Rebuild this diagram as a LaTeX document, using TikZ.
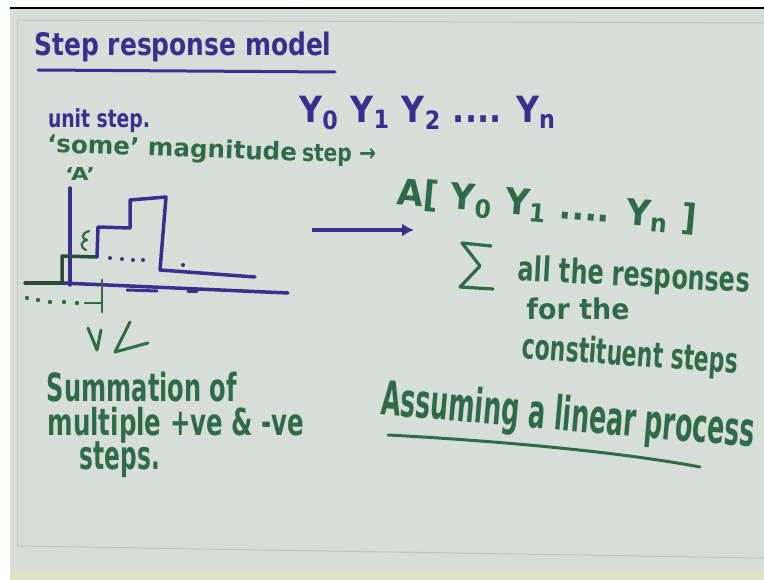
\documentclass[tikz,border=0pt]{standalone}
\usepackage{fontspec}
\setmainfont{DejaVu Sans}
\usepackage{graphicx}
\usetikzlibrary{arrows.meta}
\definecolor{board}{HTML}{D7DED8}
\definecolor{frameline}{HTML}{BEC6C0}
\definecolor{inkb}{HTML}{3A2F8E}
\definecolor{inkg}{HTML}{2F6B48}
\definecolor{inkd}{HTML}{2C4A3A}
\newcommand{\hwbox}[3]{\resizebox*{#1pt}{#2pt}{#3}}
\tikzset{
  txt/.style={inner sep=0pt, outer sep=0pt, anchor=center, font=\bfseries},
  plotb/.style={draw=inkb, line width=3.5pt, line cap=round, line join=round},
  plotg/.style={draw=inkd, line width=3.5pt, line cap=round, line join=round},
  penb/.style={draw=inkb, line width=2.5pt, line cap=round, line join=round},
  peng/.style={draw=inkg, line width=2.5pt, line cap=round, line join=round}
}
\begin{document}
\begin{tikzpicture}[x=1pt,y=-1pt]
\useasboundingbox (0,0) rectangle (764,580);
% board and frame
\fill[white] (0,0) rectangle (764,580);
\fill[board] (10,9) rectangle (764,575);
\fill[black] (10,7) rectangle (764,9.5);
\fill[yellow!12!board] (10,570) rectangle (764,580);
\draw[frameline, line width=1pt] (17,20) -- (764,23);
\draw[frameline, line width=1pt] (17,20) -- (17,546);
\draw[frameline, line width=1pt] (17,546) -- (764,558);

% title
\node[txt, text=inkb] (title) at (183,47) {\hwbox{297}{30}{Step response model}};
\draw[penb, line width=3pt] (38,70) -- (335,72);

% unit step line
\node[txt, text=inkb] (unit) at (99,121) {\hwbox{102}{24}{unit step.}};
\node[txt, text=inkb] (yseq) at (428,113) {\hwbox{257}{33}{Y\textsubscript{0} Y\textsubscript{1} Y\textsubscript{2} .... Y\textsubscript{n}}};

% some magnitude step
\node[txt, text=inkg, rotate=-2] (some) at (172,150) {\hwbox{250}{24}{‘some’ magnitude}};
\node[txt, text=inkg] (stepar) at (339,156) {\hwbox{74}{22}{step →}};
\node[txt, text=inkg] (Aq) at (80,174) {\hwbox{30}{13}{‘A’}};
\node[txt, text=inkg, rotate=-5] (Avec) at (547,207) {\hwbox{300}{34}{A[ Y\textsubscript{0} Y\textsubscript{1} .... Y\textsubscript{n} ]}};

% step plot
\draw[plotb] (70,188) -- (70,285);
\draw[plotg] (25,283) -- (62,283);
\draw[plotb] (62,283) -- (288,293);
\draw[plotg] (62,283) -- (62,256) -- (97,257);
\draw[plotb] (97,257) -- (98,227) -- (130,228) -- (130,200) -- (166,197) -- (160,270) -- (255,277);
\foreach \px/\py in {110/258,122/259,133/260,143/260,183/265}
  \fill[inkb] (\px,\py) circle (2pt);
\draw[plotb, line width=3pt] (127,290) -- (157,291);
\draw[plotb, line width=3pt] (188,292) -- (197,292);
\foreach \px/\py in {27/298,38/300,50/302,64/302,77/303}
  \fill[inkg] (\px,\py) circle (2.2pt);
\draw[peng] (85,303) -- (102,303);
\draw[peng] (102,280) -- (102,312);
\draw[peng, line width=2.2pt] (89,231) .. controls (80,234) and (82,239) .. (87,240) .. controls (80,242) and (80,247) .. (86,250);

% check marks under plot
\draw[peng, line width=3pt] (88,328) -- (97,350) -- (101,330);
\draw[peng, line width=3pt] (130,322) -- (115,352) -- (148,343);

% left text
\node[txt, text=inkg] (summ) at (142,387) {\hwbox{190}{30}{Summation of}};
\node[txt, text=inkg] (mult) at (176,425) {\hwbox{257}{36}{multiple +ve \& -ve}};
\node[txt, text=inkg] (steps) at (120,460) {\hwbox{80}{36}{steps.}};

% big arrow
\coordinate (arrS) at (312,230);
\coordinate (arrE) at (414,230);
\draw[draw=inkb, line width=4pt, -{Latex[length=12pt,width=13pt]}] (arrS) -- (arrE);

% sigma
\draw[peng, line width=3.2pt] (491,246) -- (462,243) -- (480,266) -- (460,287) -- (493,289);
\node[txt, text=inkg, rotate=-3] (allresp) at (634,277) {\hwbox{232}{33}{all the responses}};
\node[txt, text=inkg] (forthe) at (578,309) {\hwbox{103}{22}{for the}};
\node[txt, text=inkg, rotate=-4] (const) at (630,356) {\hwbox{216}{34}{constituent steps}};

% assuming
\node[txt, text=inkg, rotate=-5] (assum) at (568,418) {\hwbox{375}{46}{Assuming a linear process}};
\draw[peng, line width=3pt] (388,435) .. controls (500,441) and (620,452) .. (700,467);
\end{tikzpicture}
\end{document}
